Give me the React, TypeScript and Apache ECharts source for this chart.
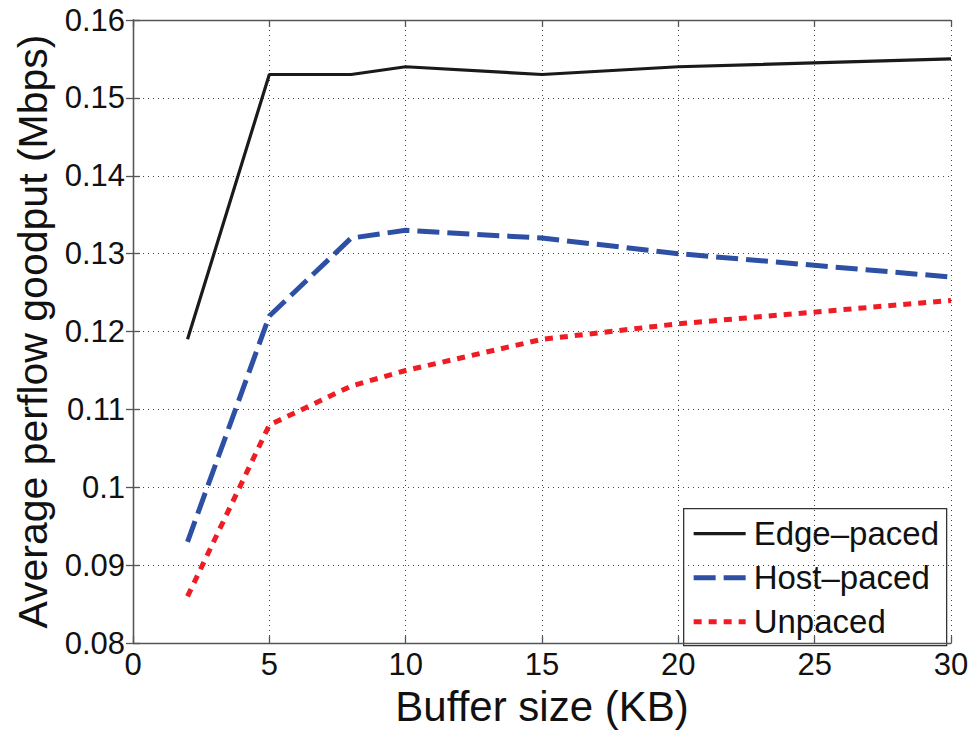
import React, { useEffect, useRef } from "react";
import * as echarts from "echarts";

const bufferSizes = [2, 5, 8, 10, 15, 20, 30];
const edgePaced = [0.119, 0.153, 0.153, 0.154, 0.153, 0.154, 0.155];
const hostPaced = [0.093, 0.122, 0.132, 0.133, 0.132, 0.13, 0.127];
const unpaced = [0.086, 0.108, 0.113, 0.115, 0.119, 0.121, 0.124];
const seriesNames = ["Edge\u2013paced", "Host\u2013paced", "Unpaced"];

const FONT = "Liberation Sans, Arial, Helvetica, sans-serif";
const COLORS = ["#1a1a1a", "#2d50a5", "#ee1c25"];
const WIDTHS = [3.2, 5, 5];
const DASHES: (number[] | null)[] = [null, [22, 8], [8, 7]];

export default function App() {
  const ref = useRef<HTMLDivElement>(null);
  useEffect(() => {
    if (!ref.current) return;
    const chart = echarts.init(ref.current, undefined, { renderer: "svg" });
    const pair = (ys: number[]) => bufferSizes.map((x, i) => [x, ys[i]]);
    const axisLine = { show: true, lineStyle: { color: "#555", width: 1.3 } };
    const tickIn = { show: true, inside: true, length: 7, lineStyle: { color: "#555", width: 1.3 } };
    const grid = { show: true, lineStyle: { color: "#444", type: [1, 4] as any, width: 1 } };

    const legendX = 683;
    const legendY = 508;
    const legendRowY = [25, 69, 113];
    const legendChildren: any[] = [
      {
        type: "rect",
        shape: { x: 0, y: 0, width: 263, height: 137 },
        style: { fill: "#fff", stroke: "#333", lineWidth: 1.3 },
      },
    ];
    seriesNames.forEach((name, i) => {
      legendChildren.push({
        type: "line",
        shape: { x1: 10, y1: legendRowY[i], x2: 62, y2: legendRowY[i] },
        style: {
          stroke: COLORS[i],
          lineWidth: WIDTHS[i],
          lineDash: DASHES[i] || undefined,
          lineCap: "butt",
        },
      });
      legendChildren.push({
        type: "text",
        x: 70,
        y: legendRowY[i],
        style: {
          text: name,
          fill: "#111",
          font: `33px ${FONT}`,
          textVerticalAlign: "middle",
          verticalAlign: "middle",
          align: "left",
        },
      });
    });

    chart.setOption({
      animation: false,
      backgroundColor: "#fff",
      grid: { left: 133, right: 22, top: 20, bottom: 79, containLabel: false },
      xAxis: [
        {
          type: "value",
          min: 0,
          max: 30,
          interval: 5,
          position: "bottom",
          axisLine,
          axisTick: tickIn,
          splitLine: grid,
          axisLabel: { color: "#111", fontSize: 31, fontFamily: FONT, margin: 6 },
          name: "Buffer size (KB)",
          nameLocation: "middle",
          nameGap: 32,
          nameTextStyle: { color: "#111", fontSize: 42, fontFamily: FONT },
        },
        {
          type: "value",
          min: 0,
          max: 30,
          interval: 5,
          position: "top",
          axisLine,
          axisTick: tickIn,
          splitLine: { show: false },
          axisLabel: { show: false },
        },
      ],
      yAxis: [
        {
          type: "value",
          min: 0.08,
          max: 0.16,
          interval: 0.01,
          position: "left",
          axisLine,
          axisTick: tickIn,
          splitLine: grid,
          axisLabel: {
            color: "#111",
            fontSize: 31,
            fontFamily: FONT,
            margin: 8,
            formatter: (v: number) => String(+v.toFixed(2)),
          },
          name: "Average perflow goodput (Mbps)",
          nameLocation: "middle",
          nameGap: 78,
          nameTextStyle: { color: "#111", fontSize: 41, fontFamily: FONT },
        },
        {
          type: "value",
          min: 0.08,
          max: 0.16,
          interval: 0.01,
          position: "right",
          axisLine,
          axisTick: tickIn,
          splitLine: { show: false },
          axisLabel: { show: false },
        },
      ],
      graphic: [
        {
          type: "group",
          left: legendX,
          top: legendY,
          z: 100,
          children: legendChildren,
        },
      ],
      series: [edgePaced, hostPaced, unpaced].map((ys, i) => ({
        name: seriesNames[i],
        type: "line",
        data: pair(ys),
        showSymbol: false,
        symbol: "none",
        lineStyle: {
          color: COLORS[i],
          width: WIDTHS[i],
          type: DASHES[i] || "solid",
          cap: "butt",
        },
        itemStyle: { color: COLORS[i] },
      })),
    });
    return () => chart.dispose();
  }, []);
  return (
    <div
      ref={ref}
      style={{ width: 973, height: 732, position: "absolute", left: 0, top: 0 }}
    />
  );
}
